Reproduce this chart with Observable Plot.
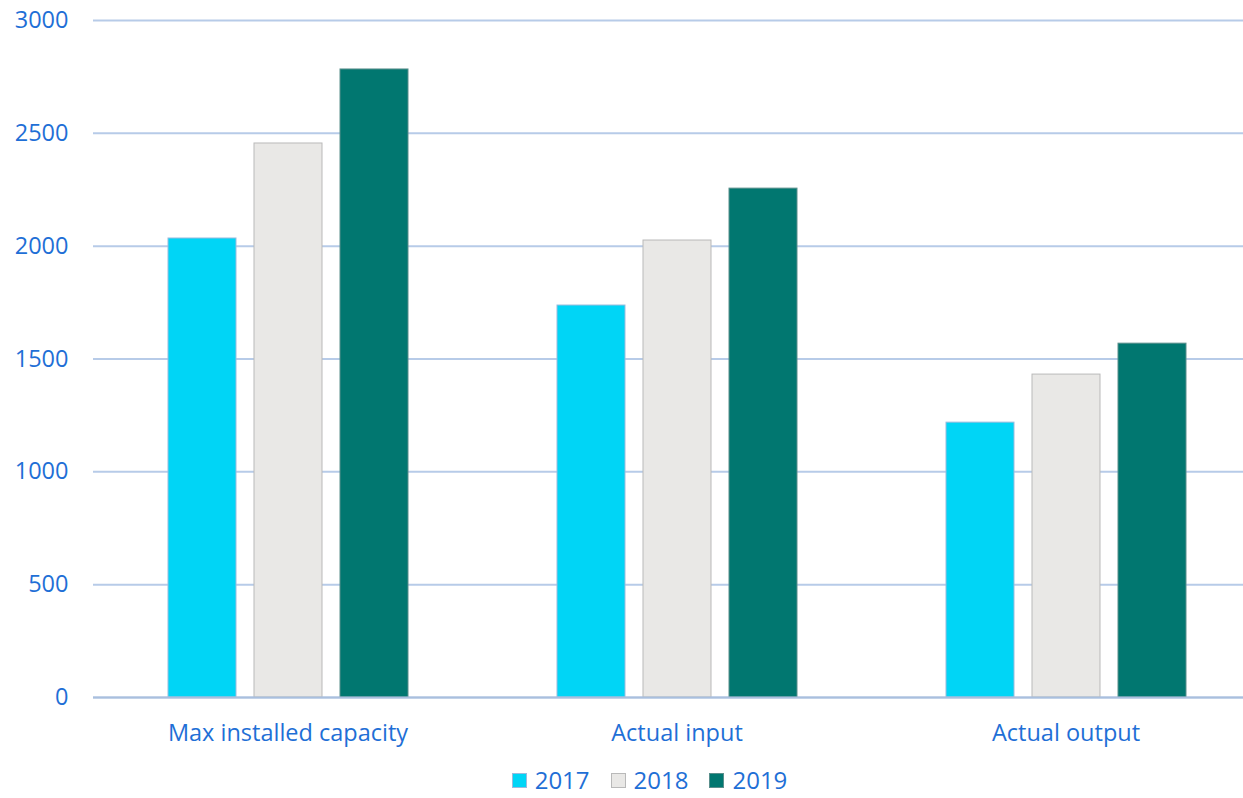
<!DOCTYPE html>
<html><head><meta charset="utf-8">
<script src="https://cdn.jsdelivr.net/npm/d3@7"></script>
<script src="https://cdn.jsdelivr.net/npm/@observablehq/plot@0.6"></script>
<style>
body{margin:0;background:#fff;font-family:"Open Sans",sans-serif;}
#legend{display:flex;justify-content:center;gap:21px;margin-top:8px;margin-left:56px;font-size:24px;line-height:24px;height:24px;color:#1f6fd6;}
#legend .it{display:flex;align-items:center;gap:8px;}
#legend .it span{display:block;height:24px;line-height:24px;}
#legend .sw{width:15px;height:15px;box-sizing:border-box;}
</style></head>
<body><div id="chart"></div><div id="legend"></div>
<script>
const categories = ["Max installed capacity", "Actual input", "Actual output"];
const years = ["2017", "2018", "2019"];
const v2017 = [2034, 1737, 1218];
const v2018 = [2455, 2025, 1431];
const v2019 = [2783, 2255, 1568];
const yTicks = [0, 500, 1000, 1500, 2000, 2500, 3000];
const colors = ["#00d5f6", "#e9e8e6", "#017770"];
const strokes = ["#9bd", "#b9b9b9", "#5a8f8c"];
const series = [v2017, v2018, v2019];
const data = [];
categories.forEach((c, i) => years.forEach((y, j) => data.push({cat: c, year: y, value: series[j][i]})));

const chart = Plot.plot({
  width: 1243, height: 760,
  marginTop: 20, marginBottom: 63, marginLeft: 93, marginRight: 0,
  style: {fontFamily: "Open Sans, sans-serif", fontSize: "23.5px", color: "#1f6fd6", background: "#fff", overflow: "hidden"},
  fx: {domain: categories, range: [93, 1260], padding: 0, label: null},
  x: {domain: years, paddingInner: 0.214, paddingOuter: 0, insetLeft: 74, insetRight: 74, axis: null},
  y: {domain: [0, 3000], ticks: yTicks, label: null, tickSize: 0, tickPadding: 25, tickFormat: d => String(d)},
  color: {domain: years, range: colors},
  marks: [
    Plot.ruleY(yTicks, {stroke: "#b7cbe8", strokeWidth: 2}),
    Plot.axisFx({anchor: "bottom", tickSize: 0, tickPadding: 27, fill: "#1f6fd6", label: null}),
    Plot.barY(data, {fx: "cat", x: "year", y: "value", fill: "year", stroke: "year", strokeWidth: 1}),
    Plot.ruleY([0], {stroke: "#a9bfde", strokeWidth: 2})
  ]
});
document.getElementById("chart").appendChild(chart);
chart.querySelectorAll("g[aria-label='bar'] rect").forEach(r => {
  const f = r.getAttribute("fill");
  const idx = colors.indexOf(f);
  if (idx >= 0) r.setAttribute("stroke", strokes[idx]);
});
const leg = document.getElementById("legend");
years.forEach((y, i) => {
  const it = document.createElement("div"); it.className = "it";
  const sw = document.createElement("div"); sw.className = "sw";
  sw.style.background = colors[i]; sw.style.border = "1px solid " + strokes[i];
  const t = document.createElement("span"); t.textContent = y;
  it.appendChild(sw); it.appendChild(t); leg.appendChild(it);
});
</script></body></html>
